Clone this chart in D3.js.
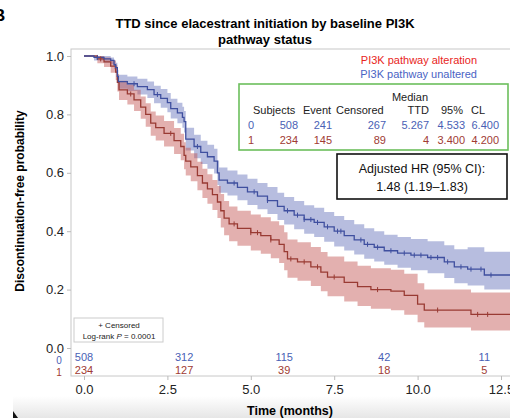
<!DOCTYPE html>
<html>
<head>
<meta charset="utf-8">
<script src="https://cdn.jsdelivr.net/npm/d3@7"></script>
<style>
  body { margin: 0; background: #fff; }
  svg { display: block; font-family: "Liberation Sans", Arial, sans-serif; }
</style>
</head>
<body>
<svg id="chart" width="510" height="418"></svg>
<script>
// unaltered (group 0): time, survival, lower CI, upper CI
var blueTime = [0, 0.3, 0.6, 0.8, 0.9, 0.95, 1.0, 1.03, 1.3, 1.6, 1.9, 2.1, 2.3, 2.5, 2.6, 2.8, 2.95, 3.0, 3.05, 3.3, 3.5, 3.7, 3.9, 4.0, 4.05, 4.3, 4.6, 4.9, 5.2, 5.5, 5.8, 6.0, 6.3, 6.6, 6.9, 7.2, 7.5, 7.8, 8.1, 8.4, 8.7, 9.0, 9.4, 9.8, 10.3, 10.8, 11.1, 11.5, 12.0, 12.9];
var blueSurv = [1.0, 0.995, 0.99, 0.985, 0.97, 0.96, 0.93, 0.912, 0.905, 0.895, 0.885, 0.868, 0.855, 0.84, 0.82, 0.805, 0.79, 0.775, 0.715, 0.69, 0.67, 0.655, 0.64, 0.6, 0.575, 0.565, 0.55, 0.535, 0.52, 0.505, 0.485, 0.47, 0.455, 0.44, 0.43, 0.415, 0.4, 0.385, 0.37, 0.355, 0.345, 0.333, 0.325, 0.318, 0.31, 0.295, 0.278, 0.27, 0.25, 0.25];
var blueLow = [1.0, 0.985, 0.978, 0.972, 0.955, 0.943, 0.908, 0.888, 0.88, 0.868, 0.856, 0.838, 0.823, 0.807, 0.786, 0.77, 0.754, 0.738, 0.676, 0.65, 0.63, 0.614, 0.598, 0.558, 0.532, 0.522, 0.506, 0.49, 0.475, 0.459, 0.438, 0.423, 0.407, 0.391, 0.38, 0.364, 0.348, 0.334, 0.32, 0.306, 0.296, 0.285, 0.275, 0.266, 0.256, 0.24, 0.222, 0.214, 0.2, 0.2];
var blueHigh = [1.0, 1.0, 1.0, 0.995, 0.985, 0.977, 0.952, 0.936, 0.93, 0.922, 0.913, 0.898, 0.887, 0.873, 0.854, 0.84, 0.826, 0.812, 0.754, 0.73, 0.71, 0.696, 0.682, 0.642, 0.618, 0.608, 0.594, 0.58, 0.565, 0.551, 0.532, 0.517, 0.503, 0.489, 0.48, 0.466, 0.452, 0.438, 0.424, 0.41, 0.4, 0.388, 0.38, 0.373, 0.366, 0.352, 0.338, 0.345, 0.33, 0.33];
var blueCens = [0.4, 1.5, 2.2, 3.4, 4.5, 5.1, 5.5, 6.1, 6.4, 6.6, 6.8, 7.0, 7.3, 7.6, 7.7, 8.3, 8.5, 8.8, 9.2, 9.6, 9.9, 10.1, 10.4, 10.6, 10.9, 11.3, 11.6, 11.9, 12.2];

// PI3K alteration (group 1)
var redTime = [0, 0.4, 0.6, 0.8, 0.95, 1.0, 1.05, 1.3, 1.5, 1.7, 1.85, 2.0, 2.15, 2.4, 2.7, 2.9, 3.0, 3.05, 3.2, 3.4, 3.55, 3.7, 3.85, 4.0, 4.1, 4.2, 4.35, 4.6, 5.0, 5.3, 5.6, 5.85, 6.0, 6.1, 6.4, 6.8, 7.1, 7.3, 7.8, 8.2, 8.6, 9.2, 9.6, 10.0, 10.2, 11.6, 12.9];
var redSurv = [1.0, 0.99, 0.98, 0.965, 0.945, 0.91, 0.884, 0.87, 0.85, 0.825, 0.8, 0.77, 0.755, 0.735, 0.71, 0.69, 0.66, 0.64, 0.62, 0.59, 0.565, 0.545, 0.525, 0.5, 0.47, 0.445, 0.425, 0.41, 0.395, 0.385, 0.37, 0.355, 0.33, 0.305, 0.295, 0.278, 0.26, 0.243, 0.225, 0.21, 0.2, 0.195, 0.18, 0.15, 0.13, 0.115, 0.115];
var redLow = [1.0, 0.975, 0.962, 0.943, 0.918, 0.878, 0.849, 0.834, 0.812, 0.785, 0.758, 0.727, 0.711, 0.69, 0.664, 0.643, 0.612, 0.591, 0.571, 0.54, 0.514, 0.494, 0.473, 0.445, 0.413, 0.386, 0.366, 0.35, 0.334, 0.323, 0.307, 0.291, 0.266, 0.241, 0.23, 0.212, 0.194, 0.177, 0.159, 0.144, 0.134, 0.129, 0.114, 0.088, 0.07, 0.06, 0.06];
var redHigh = [1.0, 1.0, 0.995, 0.985, 0.968, 0.938, 0.915, 0.902, 0.884, 0.861, 0.838, 0.81, 0.796, 0.777, 0.753, 0.734, 0.705, 0.686, 0.667, 0.638, 0.614, 0.595, 0.575, 0.555, 0.527, 0.503, 0.485, 0.47, 0.457, 0.448, 0.434, 0.42, 0.396, 0.372, 0.362, 0.346, 0.329, 0.313, 0.296, 0.282, 0.273, 0.268, 0.254, 0.222, 0.2, 0.19, 0.19];
var redCens = [0.5, 1.4, 2.6, 4.5, 5.0, 5.2, 5.6, 6.2, 6.6, 7.0, 7.5, 8.8, 10.6, 11.8, 12.1];

var atRiskTimes = [0, 3, 6, 9, 12];
var atRisk0 = [508, 312, 115, 42, 11];
var atRisk1 = [234, 127, 39, 18, 5];

var xTicks = [0, 2.5, 5, 7.5, 10, 12.5];
var yTicks = [0, 0.2, 0.4, 0.6, 0.8, 1.0];

var tableHead = ["Subjects", "Event", "Censored", "TTD", "95%", "CL"];
var tableRow0 = ["508", "241", "267", "5.267", "4.533", "6.400"];
var tableRow1 = ["234", "145", "89", "4", "3.400", "4.200"];

var blue = "#3f4f9f", blueText = "#4a5fb5", blueBand = "#4a5ab0";
var red = "#993a33", redText = "#a03b33", redBand = "#c0504d";

var svg = d3.select("#chart");

var x = d3.scaleLinear().domain([0, 12.5]).range([84, 501]);
var y = d3.scaleLinear().domain([0, 1]).range([348, 56]);

// bottom grey fade + arrow corner
var defs = svg.append("defs");
var grad = defs.append("linearGradient").attr("id", "fade").attr("x1", 0).attr("y1", 0).attr("x2", 0).attr("y2", 1);
grad.append("stop").attr("offset", "0%").attr("stop-color", "#ffffff");
grad.append("stop").attr("offset", "100%").attr("stop-color", "#e6e6e6");
svg.append("rect").attr("x", 13).attr("y", 396).attr("width", 497).attr("height", 22).attr("fill", "url(#fade)");
svg.append("path").attr("d", "M13,411 L18,418 L13,418 Z").attr("fill", "#111");

defs.append("clipPath").attr("id", "plot")
  .append("rect").attr("x", 71).attr("y", 49).attr("width", 439).attr("height", 327);

// panel letter, title
svg.append("text").attr("x", -7).attr("y", 21).attr("font-size", 17).attr("font-weight", "bold").text("B");
svg.append("text").attr("x", 265).attr("y", 28).attr("text-anchor", "middle")
  .attr("font-size", 13).attr("font-weight", "bold").text("TTD since elacestrant initiation by baseline PI3K");
svg.append("text").attr("x", 265).attr("y", 44).attr("text-anchor", "middle")
  .attr("font-size", 13).attr("font-weight", "bold").text("pathway status");

// frame
svg.append("rect").attr("x", 71).attr("y", 49).attr("width", 460).attr("height", 327)
  .attr("fill", "none").attr("stroke", "#c8c8c8").attr("stroke-width", 1);

// axes
var xAxis = svg.append("g").attr("transform", "translate(0,376)")
  .call(d3.axisBottom(x).tickValues(xTicks).tickFormat(d3.format(".1f")).tickSize(4).tickPadding(5));
var yAxis = svg.append("g").attr("transform", "translate(71,0)")
  .call(d3.axisLeft(y).tickValues(yTicks).tickFormat(d3.format(".1f")).tickSize(4).tickPadding(3));
[xAxis, yAxis].forEach(function (a) {
  a.select(".domain").remove();
  a.selectAll("line").attr("stroke", "#bbb");
  a.selectAll("text").attr("font-size", 13).attr("fill", "#222").attr("font-family", "Liberation Sans, Arial, sans-serif");
});

svg.append("text").attr("x", 290).attr("y", 415).attr("text-anchor", "middle")
  .attr("font-size", 12.5).attr("font-weight", "bold").text("Time (months)");
svg.append("text").attr("transform", "translate(24,201) rotate(-90)").attr("text-anchor", "middle")
  .attr("font-size", 12).attr("font-weight", "bold").text("Discontinuation-free probability");

// curves
function pts(t, s, lo, hi) {
  return t.map(function (d, i) { return { t: d, s: s[i], lo: lo[i], hi: hi[i] }; });
}
var blueData = pts(blueTime, blueSurv, blueLow, blueHigh);
var redData = pts(redTime, redSurv, redLow, redHigh);

var area = d3.area().curve(d3.curveStepAfter)
  .x(function (d) { return x(d.t); })
  .y0(function (d) { return y(d.lo); })
  .y1(function (d) { return y(d.hi); });
var line = d3.line().curve(d3.curveStepAfter)
  .x(function (d) { return x(d.t); })
  .y(function (d) { return y(d.s); });

var plot = svg.append("g").attr("clip-path", "url(#plot)");
plot.append("path").datum(blueData).attr("d", area).attr("fill", blueBand).attr("fill-opacity", 0.4);
plot.append("path").datum(redData).attr("d", area).attr("fill", redBand).attr("fill-opacity", 0.45);
plot.append("path").datum(redData).attr("d", line).attr("fill", "none").attr("stroke", red).attr("stroke-width", 1.3);
plot.append("path").datum(blueData).attr("d", line).attr("fill", "none").attr("stroke", blue).attr("stroke-width", 1.3);

function survAt(data, t) {
  var v = data[0].s;
  data.forEach(function (d) { if (d.t <= t) v = d.s; });
  return v;
}
function censMarks(times, data, col) {
  plot.selectAll(null).data(times).enter().append("line")
    .attr("x1", function (d) { return x(d); })
    .attr("x2", function (d) { return x(d); })
    .attr("y1", function (d) { return y(survAt(data, d)) - 2.5; })
    .attr("y2", function (d) { return y(survAt(data, d)) + 2.5; })
    .attr("stroke", col).attr("stroke-width", 1);
}
censMarks(redCens, redData, red);
censMarks(blueCens, blueData, blue);

// legend
svg.append("text").attr("x", 477).attr("y", 64).attr("text-anchor", "end")
  .attr("font-size", 11).attr("fill", "#e8251c").text("PI3K pathway alteration");
svg.append("text").attr("x", 477).attr("y", 78).attr("text-anchor", "end")
  .attr("font-size", 11).attr("fill", "#4a63c4").text("PI3K pathway unaltered");

// table box
svg.append("rect").attr("x", 239).attr("y", 84).attr("width", 269).attr("height", 66)
  .attr("fill", "#fff").attr("stroke", "#6cbf5c").attr("stroke-width", 1.6);
var colRight = [298, 332, 386, 429, 465, 499];
var headX = [253, 303, 336, 429, 441, 471];
var headAnchor = ["start", "start", "start", "end", "start", "start"];
var tbl = svg.append("g").attr("font-size", 11);
tbl.append("text").attr("x", 410).attr("y", 101).attr("text-anchor", "middle").attr("fill", "#222").text("Median");
tbl.selectAll(null).data(tableHead).enter().append("text")
  .attr("x", function (d, i) { return headX[i]; }).attr("y", 114)
  .attr("text-anchor", function (d, i) { return headAnchor[i]; })
  .attr("fill", "#222").text(function (d) { return d; });
tbl.append("text").attr("x", 248).attr("y", 129).attr("fill", blueText).text("0");
tbl.append("text").attr("x", 248).attr("y", 144).attr("fill", redText).text("1");
tbl.selectAll(null).data(tableRow0).enter().append("text")
  .attr("x", function (d, i) { return colRight[i]; }).attr("y", 129).attr("text-anchor", "end")
  .attr("fill", blueText).text(function (d) { return d; });
tbl.selectAll(null).data(tableRow1).enter().append("text")
  .attr("x", function (d, i) { return colRight[i]; }).attr("y", 144).attr("text-anchor", "end")
  .attr("fill", redText).text(function (d) { return d; });

// HR box
svg.append("rect").attr("x", 337).attr("y", 154).attr("width", 170).attr("height", 45)
  .attr("fill", "#fff").attr("stroke", "#111").attr("stroke-width", 1.6);
svg.append("text").attr("x", 422).attr("y", 173).attr("text-anchor", "middle")
  .attr("font-size", 12.5).attr("fill", "#111").text("Adjusted HR (95% CI):");
svg.append("text").attr("x", 422).attr("y", 191).attr("text-anchor", "middle")
  .attr("font-size", 12.5).attr("fill", "#111").text("1.48 (1.19\u20131.83)");

// censored / log-rank box
svg.append("rect").attr("x", 74).attr("y", 318).attr("width", 89).attr("height", 24)
  .attr("fill", "#fff").attr("stroke", "#ccc").attr("stroke-width", 1);
svg.append("text").attr("x", 119).attr("y", 328).attr("text-anchor", "middle")
  .attr("font-size", 8).attr("fill", "#222").text("+ Censored");
var lr = svg.append("text").attr("x", 119).attr("y", 339).attr("text-anchor", "middle")
  .attr("font-size", 8).attr("fill", "#222");
lr.append("tspan").text("Log-rank ");
lr.append("tspan").attr("font-style", "italic").text("P");
lr.append("tspan").text(" = 0.0001");

// numbers at risk
svg.append("text").attr("x", 59).attr("y", 364).attr("text-anchor", "middle")
  .attr("font-size", 10).attr("fill", blueText).text("0");
svg.append("text").attr("x", 59).attr("y", 376).attr("text-anchor", "middle")
  .attr("font-size", 10).attr("fill", redText).text("1");
svg.selectAll(null).data(atRisk0).enter().append("text")
  .attr("x", function (d, i) { return x(atRiskTimes[i]); }).attr("y", 361)
  .attr("text-anchor", "middle").attr("font-size", 11).attr("fill", blueText)
  .text(function (d) { return d; });
svg.selectAll(null).data(atRisk1).enter().append("text")
  .attr("x", function (d, i) { return x(atRiskTimes[i]); }).attr("y", 374)
  .attr("text-anchor", "middle").attr("font-size", 11).attr("fill", redText)
  .text(function (d) { return d; });
</script>
</body>
</html>
